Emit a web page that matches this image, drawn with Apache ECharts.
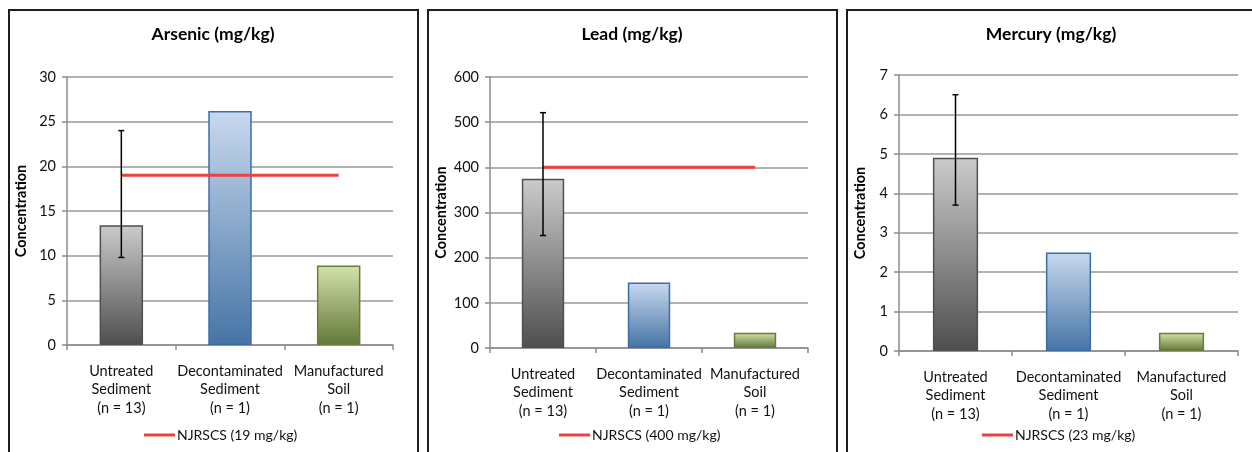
<!DOCTYPE html>
<html>
<head>
<meta charset="utf-8">
<script src="https://cdn.jsdelivr.net/npm/echarts@6/dist/echarts.min.js"></script>
<style>
html,body{margin:0;padding:0;background:#fff;}
#c{width:1252px;height:452px;}
</style>
</head>
<body>
<div id="c"></div>
<script>
const categories = ['Untreated\nSediment\n(n = 13)', 'Decontaminated\nSediment\n(n = 1)', 'Manufactured\nSoil\n(n = 1)'];
const panelTitles = ['Arsenic (mg/kg)', 'Lead (mg/kg)', 'Mercury (mg/kg)'];
const arsenicValues = [13.4, 26.2, 8.9];
const arsenicError = [9.8, 24.0];
const arsenicStandard = 19;
const leadValues = [375, 145, 34];
const leadError = [249, 521];
const leadStandard = 400;
const mercuryValues = [4.9, 2.5, 0.46];
const mercuryError = [3.7, 6.5];
const mercuryStandard = 23;
const standardNames = ['NJRSCS (19 mg/kg)', 'NJRSCS (400 mg/kg)', 'NJRSCS (23 mg/kg)'];
const yMax = [30, 600, 7];
const yStep = [5, 100, 1];

const valuesList = [arsenicValues, leadValues, mercuryValues];
const errorList = [arsenicError, leadError, mercuryError];
const standardList = [arsenicStandard, leadStandard, mercuryStandard];

const FONT = 'Lato';
const grids = [
  {left: 67, top: 77, width: 326, height: 268},
  {left: 490, top: 77, width: 318, height: 271},
  {left: 899, top: 75, width: 339, height: 276}
];
const panels = [
  {x: 9, w: 409, cx: 213, nameGap: 38, legendLeft: 144},
  {x: 428, w: 409, cx: 632, nameGap: 41, legendLeft: 559},
  {x: 847, w: 420, cx: 1051, nameGap: 31, legendLeft: 982}
];

function grad(top, bottom) {
  return new echarts.graphic.LinearGradient(0, 0, 0, 1, [
    {offset: 0, color: top}, {offset: 1, color: bottom}
  ]);
}
const barStyles = [
  {color: grad('#cbcbcb', '#4e4e4e'), borderColor: '#505050'},
  {color: grad('#c8d9ee', '#4674a6'), borderColor: '#3d6da6'},
  {color: grad('#d4e3aa', '#627739'), borderColor: '#687d3a'}
];

const option = {
  animation: false,
  textStyle: {fontFamily: FONT},
  grid: grids.map(g => Object.assign({containLabel: false}, g)),
  xAxis: grids.map((g, i) => ({
    type: 'category', gridIndex: i, data: categories,
    axisLine: {lineStyle: {color: '#8c8c8c', width: 1.5}},
    axisTick: {show: true, length: 5, interval: 0, lineStyle: {color: '#8c8c8c', width: 1.5}},
    axisLabel: {interval: 0, color: '#111', fontSize: 14.5, lineHeight: 18.5, margin: 17, fontFamily: FONT},
    splitLine: {show: false}
  })),
  yAxis: grids.map((g, i) => ({
    type: 'value', gridIndex: i, min: 0, max: yMax[i], interval: yStep[i],
    name: 'Concentration', nameLocation: 'middle', nameGap: panels[i].nameGap,
    nameTextStyle: {fontWeight: 'bold', fontSize: 14.5, color: '#000', fontFamily: FONT},
    axisLine: {show: true, lineStyle: {color: '#8c8c8c', width: 1.5}},
    axisTick: {show: true, length: 5, lineStyle: {color: '#8c8c8c', width: 1.5}},
    axisLabel: {color: '#111', fontSize: 14.5, margin: 11, fontFamily: FONT},
    splitLine: {show: true, lineStyle: {color: '#999', width: 1.5}}
  })),
  legend: panels.map((p, i) => ({
    data: [{name: standardNames[i], icon: 'rect'}], left: p.legendLeft, top: 428, padding: 0,
    itemWidth: 31, itemHeight: 3, itemGap: 4,
    textStyle: {fontSize: 14, color: '#111', fontFamily: FONT, padding: [0, 0, 0, -3]}
  })),
  series: [],
  graphic: []
};

valuesList.forEach((vals, i) => {
  option.series.push({
    type: 'bar', xAxisIndex: i, yAxisIndex: i, barWidth: '40%',
    data: vals.map((v, k) => ({value: v, itemStyle: {color: barStyles[k].color, borderColor: barStyles[k].borderColor, borderWidth: 1.5}})),
    z: 2
  });
  option.series.push({
    type: 'line', name: standardNames[i], xAxisIndex: i, yAxisIndex: i,
    data: categories.map(() => standardList[i]),
    symbol: 'none', clip: true,
    lineStyle: {color: '#e8433f', width: 3},
    itemStyle: {color: '#e8433f'},
    z: 4
  });
  option.series.push({
    type: 'custom', xAxisIndex: i, yAxisIndex: i,
    data: [[0, errorList[i][0], errorList[i][1]]],
    encode: {x: 0, y: [1, 2]},
    z: 5,
    renderItem: function (params, api) {
      const x = api.value(0);
      const top = api.coord([x, api.value(2)]);
      const bot = api.coord([x, api.value(1)]);
      const cap = 3;
      const st = {stroke: '#000', lineWidth: 1.5};
      return {type: 'group', children: [
        {type: 'line', shape: {x1: top[0], y1: top[1], x2: bot[0], y2: bot[1]}, style: st},
        {type: 'line', shape: {x1: top[0] - cap, y1: top[1], x2: top[0] + cap, y2: top[1]}, style: st},
        {type: 'line', shape: {x1: bot[0] - cap, y1: bot[1], x2: bot[0] + cap, y2: bot[1]}, style: st}
      ]};
    }
  });
});

panels.forEach((p, i) => {
  option.graphic.push({
    type: 'rect', shape: {x: p.x, y: 10, width: p.w, height: 470},
    style: {fill: 'none', stroke: '#1e1e1e', lineWidth: 2}, silent: true, z: 10
  });
  option.graphic.push({
    type: 'text', x: p.cx, y: 34,
    style: {text: panelTitles[i], fontFamily: FONT, fontWeight: 'bold', fontSize: 17.5, fill: '#000', align: 'center', verticalAlign: 'middle'},
    z: 10
  });
});

const chart = echarts.init(document.getElementById('c'), null, {renderer: 'canvas'});
chart.setOption(option);
</script>
</body>
</html>
